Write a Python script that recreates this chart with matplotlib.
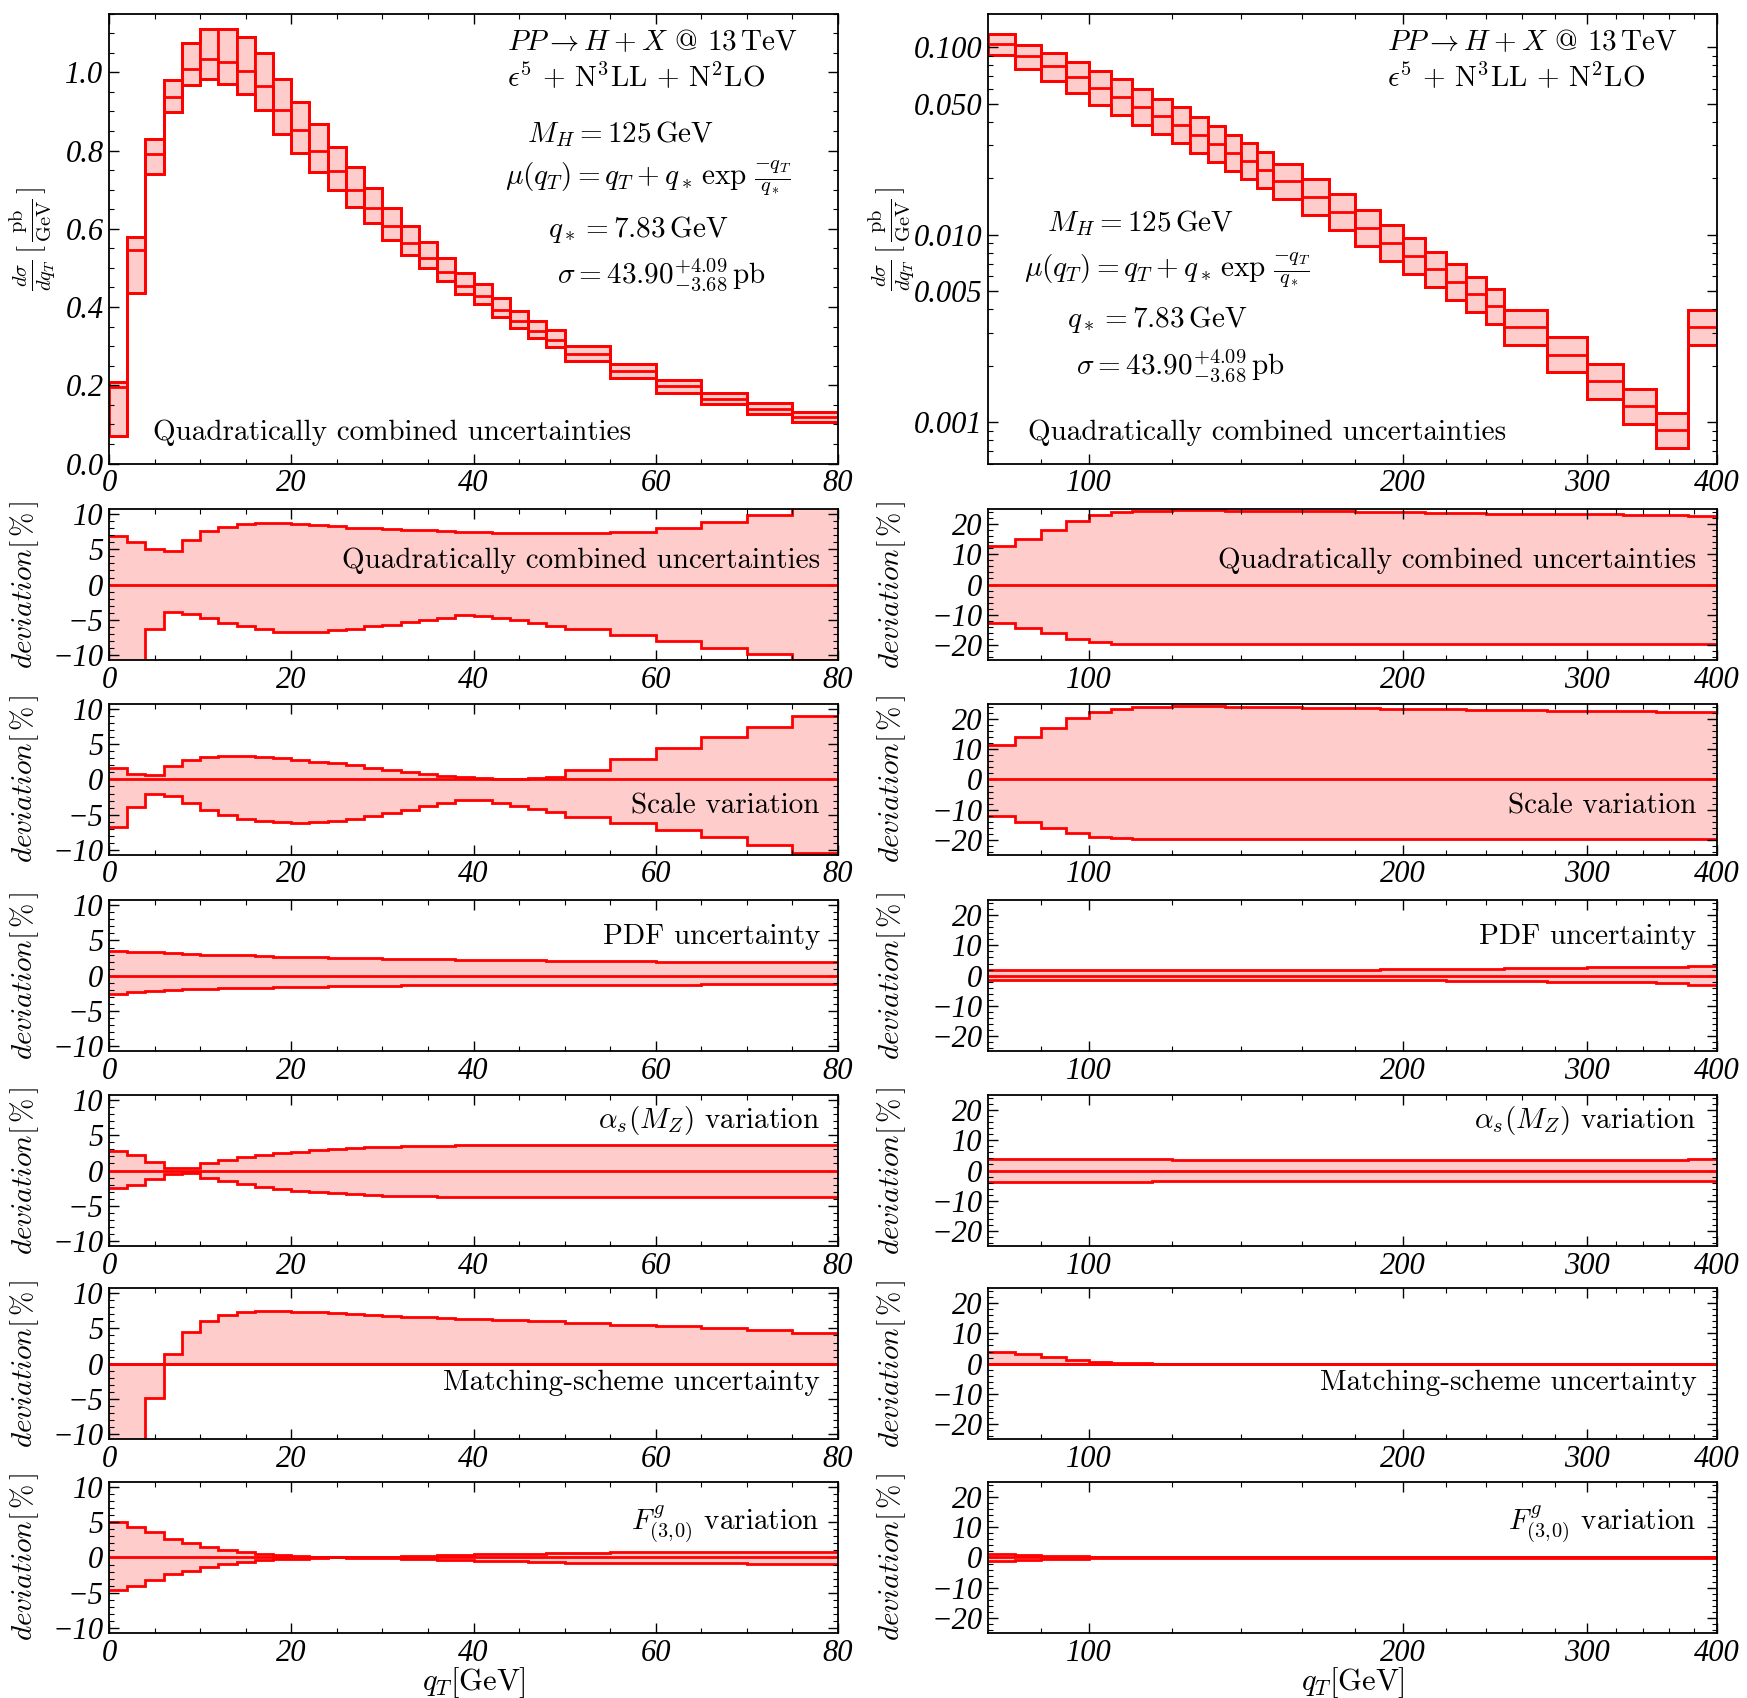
import matplotlib
matplotlib.use('Agg')
import matplotlib.pyplot as plt
import numpy as np

plt.rcParams['font.family'] = 'serif'
plt.rcParams['font.serif'] = ['cmr10']
plt.rcParams['mathtext.fontset'] = 'cm'
plt.rcParams['axes.formatter.use_mathtext'] = True

RED = '#ff0000'
PINK = '#ffcccc'

# bin edges (GeV)
edges_l = [0, 2, 4, 6, 8, 10, 12, 14, 16, 18, 20, 22, 24, 26, 28, 30, 32, 34, 36, 38, 40,
           42, 44, 46, 48, 50, 55, 60, 65, 70, 75, 80]
edges_r = [80, 85, 90, 95, 100, 105, 110, 115, 120, 125, 130, 135, 140, 145, 150, 160, 170,
           180, 190, 200, 210, 220, 230, 240, 250, 275, 300, 325, 350, 375, 400]

# central dsigma/dqT [pb/GeV]
cen_l = [0.196, 0.545, 0.790, 0.936, 1.009, 1.033, 1.026, 1.003, 0.966, 0.903, 0.852, 0.799,
         0.748, 0.700, 0.653, 0.606, 0.564, 0.525, 0.489, 0.454, 0.427, 0.393, 0.364, 0.339,
         0.317, 0.281, 0.236, 0.197, 0.166, 0.140, 0.119]
cen_r = [0.1042, 0.0892, 0.0789, 0.0692, 0.0607, 0.0542, 0.0479, 0.0427, 0.0383, 0.0341,
         0.0305, 0.0272, 0.0246, 0.0222, 0.0192, 0.0159, 0.0132, 0.01085, 0.00906, 0.0077,
         0.00654, 0.0056, 0.00481, 0.00415, 0.00322, 0.00229, 0.00165, 0.00122, 0.000906, 0.00322]

# deviations in percent, low qT column
comb_up_l = [6.9, 6.1, 5.05, 4.76, 6.4, 7.6, 8.2, 8.6, 8.7, 8.7, 8.6, 8.5, 8.3, 8.1, 8.0, 7.9,
             7.8, 7.7, 7.6, 7.5, 7.5, 7.4, 7.4, 7.3, 7.3, 7.3, 7.5, 8.1, 8.9, 9.9, 11.0]
comb_dn_l = [-64, -20, -6.4, -3.95, -4.2, -4.8, -5.5, -5.95, -6.4, -6.7, -6.8, -6.7, -6.5, -6.3,
             -5.95, -5.7, -5.4, -5.0, -4.7, -4.4, -4.5, -4.8, -5.1, -5.5, -5.9, -6.3, -7.2, -8.1,
             -9.0, -9.9, -10.8]
scale_up_l = [1.67, 0.8, 0.7, 1.86, 2.76, 3.2, 3.3, 3.3, 3.2, 3.0, 2.76, 2.5, 2.3, 2.0, 1.67,
              1.4, 1.05, 0.76, 0.48, 0.29, 0.14, 0.05, 0.05, 0.14, 0.38, 1.33, 2.95, 4.5, 6.0,
              7.5, 9.1]
scale_dn_l = [-6.8, -3.86, -2.0, -2.4, -3.3, -4.3, -5.05, -5.6, -5.95, -6.1, -6.2, -6.1, -5.85,
              -5.6, -5.2, -4.76, -4.3, -3.8, -3.3, -2.86, -2.95, -3.3, -3.76, -4.2, -4.67, -5.4,
              -6.2, -7.2, -8.2, -9.3, -10.5]
pdf_up_l = [3.5, 3.4, 3.3, 3.2, 3.1, 3.0, 2.95, 2.9, 2.8, 2.7, 2.65, 2.6, 2.55, 2.5, 2.45, 2.42,
            2.38, 2.34, 2.3, 2.27, 2.24, 2.21, 2.18, 2.15, 2.12, 2.1, 2.05, 2.0, 1.97, 1.93, 1.9]
pdf_dn_l = [-2.6, -2.3, -2.15, -2.05, -1.95, -1.88, -1.82, -1.76, -1.7, -1.65, -1.6, -1.56,
            -1.52, -1.49, -1.46, -1.43, -1.41, -1.39, -1.37, -1.35, -1.34, -1.33, -1.32, -1.31,
            -1.3, -1.29, -1.28, -1.27, -1.26, -1.25, -1.25]
as_up_l = [2.8, 2.2, 1.27, 0.4, 0.3, 1.0, 1.5, 1.86, 2.2, 2.5, 2.7, 2.9, 3.04, 3.2, 3.3, 3.4,
           3.43, 3.5, 3.53, 3.58, 3.6, 3.62, 3.63, 3.64, 3.65, 3.66, 3.66, 3.66, 3.66, 3.66, 3.66]
as_dn_l = [-2.45, -2.0, -1.2, -0.45, -0.35, -1.0, -1.47, -1.9, -2.3, -2.65, -2.9, -3.1, -3.2,
           -3.4, -3.5, -3.6, -3.63, -3.68, -3.72, -3.75, -3.77, -3.78, -3.79, -3.8, -3.8, -3.8,
           -3.8, -3.8, -3.8, -3.8, -3.8]
match_l = [-30, -30, -4.9, 1.4, 4.5, 6.1, 6.9, 7.3, 7.5, 7.5, 7.4, 7.3, 7.2, 7.05, 6.9, 6.8,
           6.7, 6.6, 6.5, 6.4, 6.35, 6.25, 6.2, 6.1, 6.0, 5.76, 5.5, 5.3, 5.06, 4.8, 4.4]
f30_up_l = [5.0, 4.36, 3.58, 2.7, 2.1, 1.52, 1.08, 0.78, 0.54, 0.34, 0.2, 0.1, 0.0, 0.03, 0.08,
            0.14, 0.2, 0.26, 0.32, 0.38, 0.44, 0.48, 0.52, 0.56, 0.6, 0.66, 0.72, 0.76, 0.78,
            0.8, 0.8]
f30_dn_l = [-4.7, -4.1, -3.2, -2.4, -1.86, -1.37, -0.98, -0.64, -0.4, -0.25, -0.15, -0.05, 0.0,
            -0.03, -0.08, -0.14, -0.2, -0.27, -0.33, -0.39, -0.45, -0.5, -0.55, -0.6, -0.65,
            -0.72, -0.78, -0.82, -0.85, -0.87, -0.88]

# deviations in percent, high qT column
comb_up_r = [12.8, 15.0, 18.0, 20.9, 23.0, 24.0, 24.3, 24.5, 24.6, 24.6, 24.6, 24.5, 24.5, 24.5,
             24.4, 24.3, 24.2, 24.1, 24.0, 23.9, 23.8, 23.7, 23.6, 23.5, 23.4, 23.3, 23.2, 23.1,
             23.0, 22.8]
comb_dn_r = [-12.6, -14.3, -16.2, -18.0, -19.1, -19.6, -19.8, -19.8, -19.8, -19.8, -19.8, -19.8,
             -19.8, -19.8, -19.8, -19.8, -19.8, -19.8, -19.8, -19.8, -19.8, -19.8, -19.8, -19.8,
             -19.8, -19.8, -19.8, -19.8, -19.8, -19.8]
scale_up_r = [11.3, 14.0, 17.1, 20.2, 22.4, 23.4, 23.9, 24.1, 24.2, 24.2, 24.2, 24.1, 24.1, 24.0,
              23.9, 23.8, 23.7, 23.6, 23.5, 23.4, 23.3, 23.2, 23.1, 23.0, 22.9, 22.8, 22.7, 22.6,
              22.5, 22.4]
scale_dn_r = [-12.2, -14.0, -16.0, -17.8, -18.9, -19.4, -19.7, -19.7, -19.7, -19.7, -19.7, -19.7,
              -19.7, -19.7, -19.7, -19.7, -19.7, -19.7, -19.7, -19.7, -19.7, -19.7, -19.7, -19.7,
              -19.7, -19.7, -19.7, -19.7, -19.7, -19.7]
pdf_up_r = [1.75, 1.75, 1.8, 1.8, 1.8, 1.8, 1.85, 1.85, 1.85, 1.85, 1.9, 1.9, 1.9, 1.9, 1.95,
            1.95, 2.0, 2.0, 2.05, 2.1, 2.15, 2.2, 2.25, 2.3, 2.4, 2.6, 2.7, 2.85, 2.85, 3.3]
pdf_dn_r = [-1.3, -1.3, -1.3, -1.3, -1.3, -1.3, -1.3, -1.3, -1.32, -1.32, -1.35, -1.35, -1.38,
            -1.38, -1.4, -1.42, -1.45, -1.48, -1.5, -1.55, -1.6, -1.65, -1.7, -1.75, -1.9, -2.1,
            -2.2, -2.25, -2.3, -3.0]
as_up_r = [3.8, 3.8, 3.8, 3.8, 3.75, 3.7, 3.7, 3.65, 3.6, 3.6, 3.55, 3.55, 3.5, 3.5, 3.5, 3.45,
           3.45, 3.4, 3.4, 3.4, 3.4, 3.4, 3.4, 3.4, 3.4, 3.45, 3.5, 3.55, 3.6, 3.8]
as_dn_r = [-3.9, -3.85, -3.8, -3.8, -3.75, -3.7, -3.65, -3.6, -3.6, -3.55, -3.5, -3.5, -3.5,
           -3.45, -3.45, -3.4, -3.4, -3.4, -3.4, -3.4, -3.4, -3.4, -3.4, -3.4, -3.4, -3.4, -3.4,
           -3.4, -3.4, -3.4]
match_r = [3.75, 3.1, 2.05, 1.1, 0.45, 0.2, 0.05, 0, 0, 0, 0, 0, 0, 0, 0, 0, 0, 0, 0, 0, 0, 0,
           0, 0, 0, 0, 0, 0, 0, 0]
f30_up_r = [1.0, 0.75, 0.5, 0.35, 0.2, 0.12, 0.08, 0.05, 0.04, 0.03, 0.03, 0.03, 0.03, 0.03,
            0.03, 0.03, 0.03, 0.03, 0.03, 0.03, 0.03, 0.03, 0.03, 0.03, 0.03, 0.03, 0.03, 0.03,
            0.03, 0.03]
f30_dn_r = [-1.0, -0.75, -0.5, -0.35, -0.2, -0.12, -0.08, -0.05, -0.04, -0.03, -0.03, -0.03,
            -0.03, -0.03, -0.03, -0.03, -0.03, -0.03, -0.03, -0.03, -0.03, -0.03, -0.03, -0.03,
            -0.03, -0.03, -0.03, -0.03, -0.03, -0.03]

dev_labels = ["Quadratically combined uncertainties", "Scale variation", "PDF uncertainty",
              r"$\alpha_s(M_Z)$ variation", "Matching-scheme uncertainty",
              r"$F^{g}_{(3,\!0)}$ variation"]
dev_label_y = [0.66, 0.32, 0.756, 0.83, 0.37, 0.72]

info_lines = [r"$PP \to H + X$ @ 13$\,$TeV", r"$\epsilon^5$ + N$^3$LL + N$^2$LO",
              r"$M_H = 125\,\mathrm{GeV}$", r"$\mu(q_T) = q_T + q_*\,\exp\,\frac{-q_T}{q_*}$",
              r"$q_* = 7.83\,\mathrm{GeV}$", r"$\sigma = 43.90^{+4.09}_{-3.68}\,\mathrm{pb}$"]

TICKFONT = dict(family='Liberation Serif', style='italic', fontsize=22)
TXT = 21


def fmt_num(v, nd=0):
    s = f"{v:.{nd}f}"
    return s.replace('-', '\u2212')


def style_axes(ax):
    for sp in ax.spines.values():
        sp.set_linewidth(1.3)
    ax.tick_params(which='both', direction='in', top=True, right=True, pad=4)
    ax.tick_params(which='major', length=7, width=1.0)
    ax.tick_params(which='minor', length=3.5, width=0.8)


def set_xaxis(ax, left):
    if left:
        ax.set_xlim(0, 80)
        ticks = [0, 20, 40, 60, 80]
        ax.set_xticks(ticks, [fmt_num(t) for t in ticks], **TICKFONT)
        ax.set_xticks(np.arange(0, 81, 5), minor=True)
    else:
        ax.set_xscale('log')
        ax.set_xlim(80, 400)
        ticks = [100, 200, 300, 400]
        ax.set_xticks(ticks, [fmt_num(t) for t in ticks], **TICKFONT)
        ax.set_xticks([90, 120, 140, 160, 180, 220, 240, 260, 280, 320, 340, 360, 380],
                      minor=True)
        ax.xaxis.set_minor_formatter(plt.NullFormatter())


def dev_panel(ax, edges, up, dn, left, label, label_y):
    up = np.asarray(up, float)
    dn = np.zeros_like(up) if dn is None else np.asarray(dn, float)
    ax.stairs(up, edges, baseline=dn, fill=True, color=PINK, lw=0)
    ax.stairs(up, edges, baseline=None, color=RED, lw=2.0)
    ax.stairs(dn, edges, baseline=None, color=RED, lw=2.0)
    ax.axhline(0, color=RED, lw=2.0)
    set_xaxis(ax, left)
    if left:
        ax.set_ylim(-10.75, 10.75)
        yt = [-10, -5, 0, 5, 10]
        ax.set_yticks(yt, [fmt_num(t) for t in yt], **TICKFONT)
        ax.set_yticks(np.arange(-10, 11, 1), minor=True)
    else:
        ax.set_ylim(-25, 25)
        yt = [-20, -10, 0, 10, 20]
        ax.set_yticks(yt, [fmt_num(t) for t in yt], **TICKFONT)
        ax.set_yticks(np.arange(-24, 25, 2), minor=True)
    ax.set_ylabel(r'$deviation[\,\%\,]$', fontsize=21)
    ax.yaxis.set_label_coords(-0.093 if left else -0.11, 0.5)
    ax.text(0.975 if left else 0.972, label_y, label, transform=ax.transAxes,
            ha='right', va='center', fontsize=TXT)
    style_axes(ax)


fig = plt.figure(figsize=(17.47, 16.98), dpi=100)

col_x = [0.0624, 0.5655]
col_w = 0.4173
main_b, main_h = 0.727, 0.265
dev_b = [0.6113, 0.4965, 0.381, 0.2662, 0.1525, 0.0383]
dev_h = 0.0889

# main distributions
for ci, (edges, cen, up, dn) in enumerate([(edges_l, cen_l, comb_up_l, comb_dn_l),
                                           (edges_r, cen_r, comb_up_r, comb_dn_r)]):
    left = ci == 0
    ax = fig.add_axes([col_x[ci], main_b, col_w, main_h])
    e = np.asarray(edges, float)
    c = np.asarray(cen)
    hi = c * (1 + np.asarray(up) / 100.0)
    lo = c * (1 + np.asarray(dn) / 100.0)
    ax.bar(e[:-1], hi - lo, bottom=lo, width=np.diff(e), align='edge',
           facecolor=PINK, edgecolor=RED, lw=2.0)
    ax.stairs(hi, e, baseline=None, color=RED, lw=2.0)
    ax.stairs(lo, e, baseline=None, color=RED, lw=2.0)
    ax.stairs(c, e, baseline=None, color=RED, lw=2.0)
    set_xaxis(ax, left)
    if left:
        ax.set_ylim(0, 1.15)
        yt = [0.0, 0.2, 0.4, 0.6, 0.8, 1.0]
        ax.set_yticks(yt, [fmt_num(t, 1) for t in yt], **TICKFONT)
        ax.set_yticks(np.arange(0, 1.151, 0.05), minor=True)
        pos = [(0.546, 0.936), (0.546, 0.861), (0.573, 0.733), (0.543, 0.634),
               (0.602, 0.52), (0.615, 0.42)]
    else:
        ax.set_yscale('log')
        ax.set_ylim(6.0e-4, 0.151)
        yt = [0.001, 0.005, 0.010, 0.050, 0.100]
        ax.set_yticks(yt, [f"{t:.3f}" for t in yt], **TICKFONT)
        ax.yaxis.set_minor_formatter(plt.NullFormatter())
        pos = [(0.547, 0.936), (0.547, 0.861), (0.081, 0.535), (0.05, 0.43),
               (0.109, 0.32), (0.121, 0.218)]
    for (px, py), s in zip(pos, info_lines):
        ax.text(px, py, s, transform=ax.transAxes, ha='left', va='center', fontsize=TXT)
    ax.text(0.06 if left else 0.055, 0.069, "Quadratically combined uncertainties",
            transform=ax.transAxes, ha='left', va='center', fontsize=TXT)
    ax.set_ylabel(r'$\frac{d\sigma}{d q_T}\,[\,\frac{\mathrm{pb}}{\mathrm{GeV}}\,]$', fontsize=21)
    ax.yaxis.set_label_coords(-0.072 if left else -0.098, 0.5)
    style_axes(ax)

# deviation panels
dev_l = [(comb_up_l, comb_dn_l), (scale_up_l, scale_dn_l), (pdf_up_l, pdf_dn_l),
         (as_up_l, as_dn_l), (match_l, None), (f30_up_l, f30_dn_l)]
dev_r = [(comb_up_r, comb_dn_r), (scale_up_r, scale_dn_r), (pdf_up_r, pdf_dn_r),
         (as_up_r, as_dn_r), (match_r, None), (f30_up_r, f30_dn_r)]

for ci, (edges, devs) in enumerate([(edges_l, dev_l), (edges_r, dev_r)]):
    for ri, (up, dn) in enumerate(devs):
        ax = fig.add_axes([col_x[ci], dev_b[ri], col_w, dev_h])
        dev_panel(ax, edges, up, dn, ci == 0, dev_labels[ri], dev_label_y[ri])
        if ri == len(devs) - 1:
            ax.set_xlabel(r'$q_T[\mathrm{GeV}]$', fontsize=22, labelpad=-2)

fig.savefig('out.png', dpi=100)
